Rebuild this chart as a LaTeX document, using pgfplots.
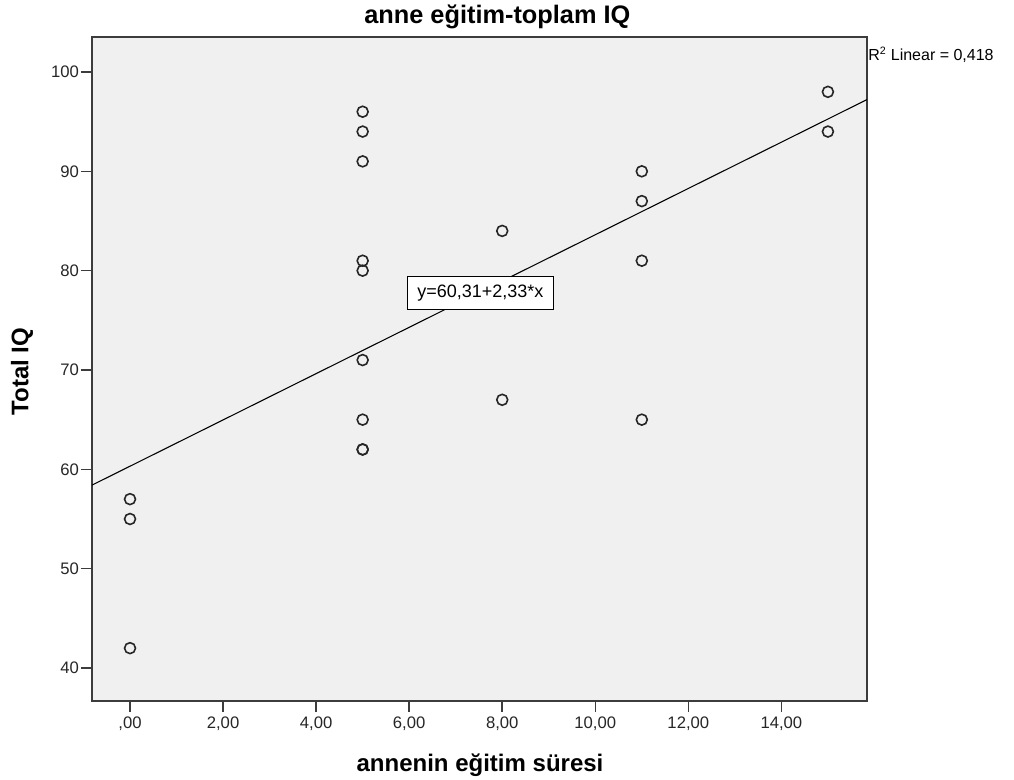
\documentclass[border=0pt]{standalone}
\usepackage{fontspec}
\setmainfont{Liberation Sans}
\usepackage{pgfplots}
\pgfplotsset{compat=1.18}
\definecolor{bgc}{RGB}{240,240,240}
\definecolor{frame}{RGB}{60,60,60}
\begin{document}
\begin{tikzpicture}
\useasboundingbox (-69pt,-59.25pt) rectangle (691.5pt,525.75pt);
\begin{axis}[
  at={(0pt,0pt)}, anchor=south west,
  width=581.25pt, height=498pt, scale only axis,
  xmin=-0.817, xmax=15.84, ymin=36.68, ymax=103.52,
  axis background/.style={fill=bgc},
  axis line style={draw=frame, line width=1.1pt},
  tick align=outside, major tick length=8.25pt,
  tick style={draw=frame, line width=1.1pt},
  xtick pos=bottom, ytick pos=left,
  xtick={0,2,4,6,8,10,12,14},
  xticklabels={{,00},{2,00},{4,00},{6,00},{8,00},{10,00},{12,00},{14,00}},
  ytick={40,50,60,70,80,90,100},
  ticklabel style={font=\fontsize{12.5}{14}\selectfont, text=black!85},
  yticklabel style={xshift=2pt},
  /pgf/number format/assume math mode=true,
]
\addplot[black, line width=0.8pt, forget plot] coordinates {(-0.817,58.41) (15.84,97.22)};
\addplot[only marks, mark=o, mark size=4.1pt, mark options={draw=black!85, line width=1.2pt}]
coordinates {
(0,57) (0,55) (0,42)
(5,96) (5,94) (5,91) (5,81) (5,80) (5,71) (5,65) (5,62) (5,62)
(8,84) (8,67)
(11,90) (11,87) (11,81) (11,65)
(15,98) (15,94)
};
\node[draw=black, line width=0.75pt, fill=white, inner xsep=2pt, inner ysep=0pt,
  minimum width=109.5pt, minimum height=24.75pt,
  font=\fontsize{13.5}{15}\selectfont] at (axis cs:7.53,77.73) {y=60,31+2,33*x};
\end{axis}
\node[font=\fontsize{19}{22}\bfseries] at (304pt,513pt) {anne eğitim-toplam IQ};
\node[font=\fontsize{18}{21}\bfseries] at (291pt,-48pt) {annenin eğitim süresi};
\node[font=\fontsize{18}{21}\bfseries, rotate=90] at (-52.5pt,247pt) {Total IQ};
\node[anchor=west, inner sep=0pt, font=\fontsize{12}{14}\selectfont] at (582pt,484.5pt) {R\textsuperscript{2} Linear = 0,418};
\end{tikzpicture}
\end{document}
